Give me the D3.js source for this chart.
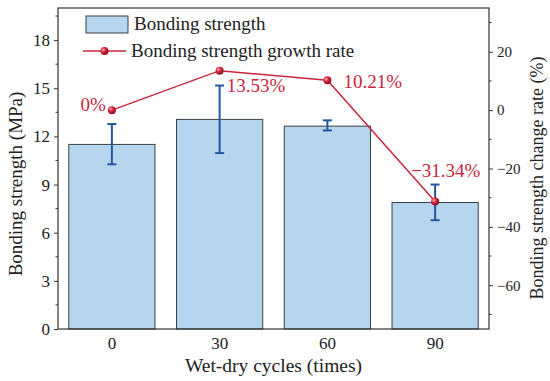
<!DOCTYPE html>
<html>
<head>
<meta charset="utf-8">
<script src="https://cdn.jsdelivr.net/npm/d3@7"></script>
<style>
  body { margin: 0; background: #fff; }
  svg text { font-family: "Liberation Serif", "Times New Roman", serif; }
</style>
</head>
<body>
<svg id="chart" width="550" height="381"></svg>
<script>
// data
let cycles = ['0', '30', '60', '90'];
let strength = [11.5, 13.06, 12.64, 7.88];
let errLow = [10.26, 10.96, 12.37, 6.78];
let errHigh = [12.77, 15.17, 13.0, 9.0];
let growth = [0, 13.53, 10.21, -31.34];
let growthLabels = ['0%', '13.53%', '10.21%', '\u221231.34%'];
let leftTicks = [0, 3, 6, 9, 12, 15, 18];
let rightTicks = [-60, -40, -20, 0, 20];

let barFill = '#b6d6ef';
let barStroke = '#3a3f45';
let errColor = '#2456a4';
let lineColor = '#c9263e';

let svg = d3.select('#chart');

let margin = { top: 8, right: 61, bottom: 52, left: 58 };
let width = 550 - margin.left - margin.right;
let height = 381 - margin.top - margin.bottom;

let defs = svg.append('defs');
let grad = defs.append('radialGradient')
	.attr('id', 'ball')
	.attr('cx', '35%').attr('cy', '35%').attr('r', '65%');
grad.append('stop').attr('offset', '0%').attr('stop-color', '#ffb0b8');
grad.append('stop').attr('offset', '45%').attr('stop-color', '#d6283f');
grad.append('stop').attr('offset', '100%').attr('stop-color', '#8e1022');

let chart = svg.append('g')
	.attr('transform', 'translate(' + margin.left + ', ' + margin.top + ')');

let x = d3.scaleBand()
	.domain(cycles)
	.range([0, width])
	.paddingInner(0.2)
	.paddingOuter(0.1);

let y = d3.scaleLinear()
	.domain([0, 20])
	.range([height, 0]);

let y2 = d3.scaleLinear()
	.domain([-75, 35])
	.range([height, 0]);

// bars
chart.selectAll('.bar')
	.data(cycles)
	.enter()
	.append('rect')
	.attr('class', 'bar')
	.attr('x', d => x(d))
	.attr('width', x.bandwidth())
	.attr('y', (d, i) => y(strength[i]))
	.attr('height', (d, i) => height - y(strength[i]))
	.attr('fill', barFill)
	.attr('stroke', barStroke)
	.attr('stroke-width', 1);

// error bars
let cx = d => x(d) + x.bandwidth() / 2;
let err = chart.selectAll('.err')
	.data(cycles)
	.enter()
	.append('g')
	.attr('stroke', errColor)
	.attr('stroke-width', 2);
err.append('line')
	.attr('x1', cx).attr('x2', cx)
	.attr('y1', (d, i) => y(errLow[i]))
	.attr('y2', (d, i) => y(errHigh[i]));
err.append('line')
	.attr('x1', d => cx(d) - 4.5).attr('x2', d => cx(d) + 4.5)
	.attr('y1', (d, i) => y(errLow[i]))
	.attr('y2', (d, i) => y(errLow[i]));
err.append('line')
	.attr('x1', d => cx(d) - 4.5).attr('x2', d => cx(d) + 4.5)
	.attr('y1', (d, i) => y(errHigh[i]))
	.attr('y2', (d, i) => y(errHigh[i]));

// growth line
let line = d3.line()
	.x((d, i) => cx(cycles[i]))
	.y(d => y2(d));

chart.append('path')
	.datum(growth)
	.attr('fill', 'none')
	.attr('stroke', lineColor)
	.attr('stroke-width', 1.5)
	.attr('d', line);

chart.selectAll('.pt')
	.data(growth)
	.enter()
	.append('circle')
	.attr('cx', (d, i) => cx(cycles[i]))
	.attr('cy', d => y2(d))
	.attr('r', 4)
	.attr('fill', 'url(#ball)');

let labelOffset = [[-6, 1, 'end'], [7, 21, 'start'], [16, 8, 'start'], [-24, -25, 'start']];
chart.selectAll('.lab')
	.data(growth)
	.enter()
	.append('text')
	.attr('x', (d, i) => cx(cycles[i]) + labelOffset[i][0])
	.attr('y', (d, i) => y2(d) + labelOffset[i][1])
	.attr('text-anchor', (d, i) => labelOffset[i][2])
	.attr('fill', lineColor)
	.style('font-size', '19px')
	.text((d, i) => growthLabels[i]);

// frame
chart.append('rect')
	.attr('width', width)
	.attr('height', height)
	.attr('fill', 'none')
	.attr('stroke', '#333')
	.attr('stroke-width', 1.2);

// left axis
let yAxis = d3.axisLeft(y)
	.tickValues(leftTicks)
	.tickSize(4)
	.tickPadding(4);
let gL = chart.append('g').call(yAxis);
gL.selectAll('line').attr('stroke', '#333');
gL.select('.domain').remove();
gL.selectAll('text')
	.style('font-size', '17px')
	.style('font-family', '"Liberation Serif", serif')
	.attr('fill', '#222');
gL.selectAll('.minor')
	.data(d3.range(1.5, 20, 3))
	.enter()
	.append('line')
	.attr('x1', 0).attr('x2', -2.5)
	.attr('y1', d => y(d)).attr('y2', d => y(d))
	.attr('stroke', '#333');

// right axis
let yAxis2 = d3.axisRight(y2)
	.tickValues(rightTicks)
	.tickFormat(d => d < 0 ? '\u2212' + Math.abs(d) : d)
	.tickSize(4)
	.tickPadding(4);
let gR = chart.append('g')
	.attr('transform', 'translate(' + width + ', 0)')
	.call(yAxis2);
gR.selectAll('line').attr('stroke', '#333');
gR.select('.domain').remove();
gR.selectAll('text')
	.style('font-size', '15px')
	.style('font-family', '"Liberation Serif", serif')
	.attr('fill', '#222');
gR.selectAll('.minor')
	.data(d3.range(-70, 35, 20))
	.enter()
	.append('line')
	.attr('x1', 0).attr('x2', 2.5)
	.attr('y1', d => y2(d)).attr('y2', d => y2(d))
	.attr('stroke', '#333');

// x axis
let xAxis = d3.axisBottom(x)
	.tickSize(0)
	.tickPadding(8);
let gX = chart.append('g')
	.attr('transform', 'translate(0, ' + height + ')')
	.call(xAxis);
gX.select('.domain').remove();
gX.selectAll('text')
	.style('font-size', '17px')
	.style('font-family', '"Liberation Serif", serif')
	.attr('fill', '#222');

// axis titles
svg.append('text')
	.attr('transform', 'translate(22, 184) rotate(-90)')
	.attr('text-anchor', 'middle')
	.style('font-size', '19px')
	.attr('fill', '#222')
	.text('Bonding strength (MPa)');

svg.append('text')
	.attr('transform', 'translate(543, 178) rotate(-90)')
	.attr('text-anchor', 'middle')
	.style('font-size', '18px')
	.attr('fill', '#222')
	.text('Bonding strength change rate (%)');

svg.append('text')
	.attr('x', margin.left + width / 2)
	.attr('y', 372)
	.attr('text-anchor', 'middle')
	.style('font-size', '19.5px')
	.attr('fill', '#222')
	.text('Wet-dry cycles (times)');

// legend
let legend = svg.append('g');
legend.append('rect')
	.attr('x', 86).attr('y', 16)
	.attr('width', 42).attr('height', 17)
	.attr('fill', barFill)
	.attr('stroke', barStroke);
legend.append('text')
	.attr('x', 134).attr('y', 30)
	.style('font-size', '19px')
	.attr('fill', '#222')
	.text('Bonding strength');
legend.append('line')
	.attr('x1', 83).attr('x2', 126)
	.attr('y1', 51).attr('y2', 51)
	.attr('stroke', lineColor)
	.attr('stroke-width', 1.5);
legend.append('circle')
	.attr('cx', 104.5).attr('cy', 51)
	.attr('r', 4)
	.attr('fill', 'url(#ball)');
legend.append('text')
	.attr('x', 131).attr('y', 57)
	.style('font-size', '19px')
	.attr('fill', '#222')
	.text('Bonding strength growth rate');
</script>
</body>
</html>
